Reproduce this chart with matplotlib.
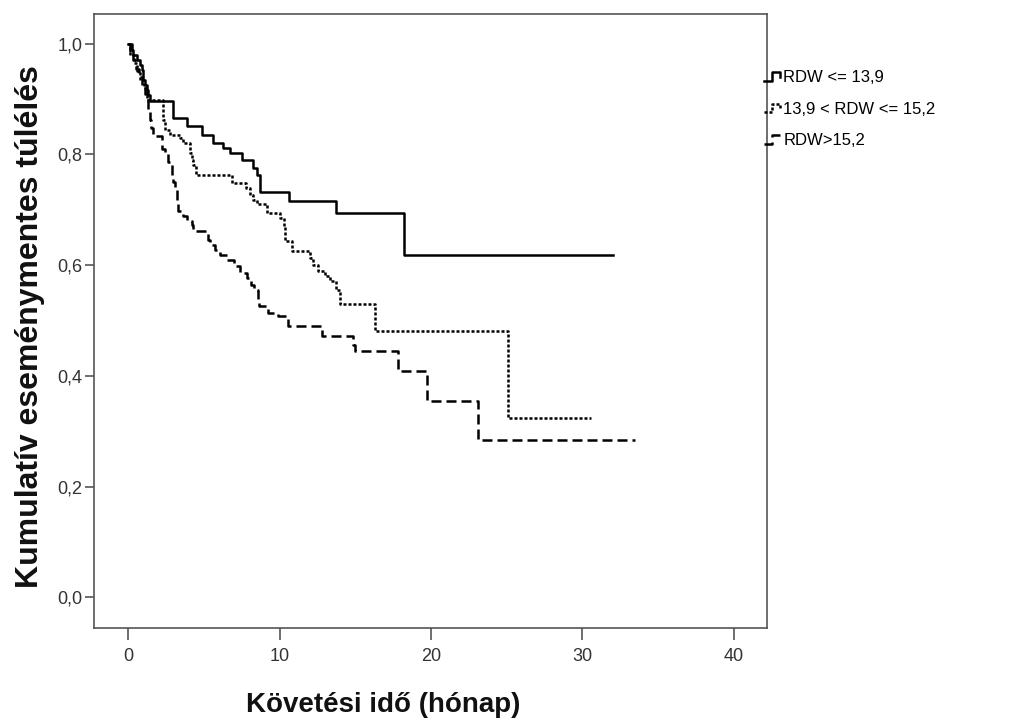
import matplotlib
matplotlib.use('Agg')
import matplotlib.pyplot as plt
from matplotlib.lines import Line2D
from matplotlib.legend_handler import HandlerBase
from matplotlib.ticker import FuncFormatter

# Kaplan-Meier lepcsők: esemény ideje (hónap) és túlélés az esemény után
t_low = [0, 0.22, 0.33, 0.55, 0.77, 0.88, 0.99, 1.1, 1.21, 1.32, 1.43, 2.95, 3.86,
         4.85, 5.62, 6.27, 6.72, 7.49, 8.26, 8.48, 8.7, 10.6, 13.7, 18.2, 32.0]
s_low = [1.0, 0.989, 0.98, 0.971, 0.962, 0.953, 0.935, 0.925, 0.917, 0.908, 0.897, 0.865, 0.851,
         0.836, 0.821, 0.812, 0.803, 0.790, 0.776, 0.763, 0.733, 0.716, 0.694, 0.618, 0.618]

t_mid = [0, 0.1, 0.35, 0.6, 0.8, 1.0, 1.2, 2.31, 2.45, 2.75, 3.4, 3.6, 4.07, 4.18, 4.29, 4.5,
         6.83, 7.8, 8.05, 8.25, 8.48, 9.14, 10.0, 10.25, 10.35, 10.8, 12.0, 12.2, 12.5, 13.0,
         13.3, 13.75, 13.98, 16.3, 25.1, 30.6]
s_mid = [1.0, 0.98, 0.965, 0.95, 0.935, 0.92, 0.899, 0.863, 0.845, 0.835, 0.830, 0.82, 0.803, 0.79,
         0.781, 0.763, 0.748, 0.739, 0.727, 0.718, 0.710, 0.695, 0.685, 0.67, 0.643, 0.625, 0.613,
         0.601, 0.589, 0.580, 0.571, 0.556, 0.529, 0.481, 0.324, 0.324]

t_high = [0, 0.1, 0.3, 0.5, 0.7, 0.9, 1.1, 1.3, 1.4, 1.5, 1.6, 2.2, 2.42, 2.64, 2.86, 2.97,
          3.08, 3.2, 3.3, 3.63, 3.85, 4.18, 4.29, 5.28, 5.4, 5.72, 6.05, 6.5, 7.0, 7.4, 7.82,
          8.1, 8.3, 8.58, 8.65, 9.25, 9.9, 10.57, 12.8, 14.85, 14.97, 17.83, 19.7, 23.1, 33.5]
s_high = [1.0, 0.985, 0.97, 0.955, 0.94, 0.925, 0.91, 0.88, 0.862, 0.848, 0.833, 0.809, 0.803,
          0.787, 0.763, 0.751, 0.742, 0.718, 0.697, 0.688, 0.679, 0.673, 0.661, 0.646, 0.637,
          0.628, 0.619, 0.61, 0.598, 0.586, 0.577, 0.565, 0.556, 0.538, 0.526, 0.514, 0.508,
          0.490, 0.473, 0.456, 0.445, 0.408, 0.354, 0.285, 0.285]

labels = ['RDW <= 13,9', '13,9 < RDW <= 15,2', 'RDW>15,2']
x_ticks = [0, 10, 20, 30, 40]
y_ticks = [0.0, 0.2, 0.4, 0.6, 0.8, 1.0]

plt.rcParams['font.family'] = ['Liberation Sans', 'DejaVu Sans']
AXC = '#555555'


class StepIcon(HandlerBase):
    # kis lépcső alakú jelölő a jelmagyarázatban
    def create_artists(self, legend, orig_handle, xdescent, ydescent,
                       width, height, fontsize, trans):
        fx = [0.0, 0.45, 0.45, 0.95, 0.95]
        fy = [0.1, 0.1, 0.85, 0.85, 0.45]
        xs = [-xdescent + f * width for f in fx]
        ys = [-ydescent + f * height for f in fy]
        ln = Line2D(xs, ys)
        self.update_prop(ln, orig_handle, legend)
        ln.set_transform(trans)
        return [ln]


fig = plt.figure(figsize=(10.11, 7.2), dpi=100)
ax = fig.add_axes([0.093, 0.128, 0.6657, 0.8528])

h1, = ax.step(t_low, s_low, where='post', color='black', lw=1.8, linestyle='-')
h2, = ax.step(t_mid, s_mid, where='post', color='black', lw=1.8, linestyle=(0, (1.2, 0.8)))
h3, = ax.step(t_high, s_high, where='post', color='black', lw=1.8, linestyle=(0, (4, 2)))

ax.set_xlim(-2.27, 42.2)
ax.set_ylim(-0.055, 1.054)
ax.set_xticks(x_ticks)
ax.set_yticks(y_ticks)
ax.yaxis.set_major_formatter(FuncFormatter(lambda v, p: f'{v:.1f}'.replace('.', ',')))
ax.tick_params(direction='out', width=1.2, color=AXC, labelcolor='#333333', labelsize=13)
ax.tick_params(axis='x', length=8.5, pad=6)
ax.tick_params(axis='y', length=6.5, pad=2)
for sp in ax.spines.values():
    sp.set_color(AXC)
    sp.set_linewidth(1.2)

ax.set_xlabel('Követési idő (hónap)', fontsize=20, fontweight='bold', color='#111111')
ax.set_ylabel('Kumulatív eseménymentes túlélés', fontsize=23, fontweight='bold', color='#111111')
ax.xaxis.set_label_coords(0.43, -0.105)
ax.yaxis.set_label_coords(-0.073, 0.49)

ax.legend([h1, h2, h3], labels, handler_map={Line2D: StepIcon()},
          loc='upper left', bbox_to_anchor=(764 / 1011, 1 - 70 / 720),
          bbox_transform=fig.transFigure, frameon=False, fontsize=12,
          handlelength=1.0, handletextpad=0.15, labelspacing=1.0, borderpad=0,
          borderaxespad=0)

fig.savefig('out.png', dpi=100)
